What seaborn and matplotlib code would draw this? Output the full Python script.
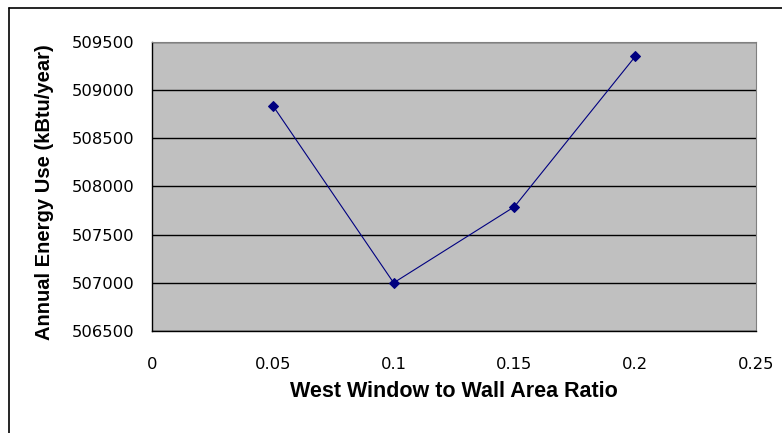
import matplotlib
matplotlib.use("Agg")
import matplotlib.pyplot as plt
import seaborn as sns
import pandas as pd
from matplotlib.lines import Line2D

# Data
window_ratio = [0.05, 0.10, 0.15, 0.20]
energy_use = [508840, 507000, 507790, 509350]

x_ticks = [0, 0.05, 0.1, 0.15, 0.2, 0.25]
x_tick_labels = ["0", "0.05", "0.1", "0.15", "0.2", "0.25"]
y_ticks = [506500, 507000, 507500, 508000, 508500, 509000, 509500]

df = pd.DataFrame({"ratio": window_ratio, "energy": energy_use})

sns.set_style("white")
plt.rcParams["font.family"] = ["Liberation Sans", "DejaVu Sans"]
plt.rcParams["text.color"] = "black"
plt.rcParams["axes.labelcolor"] = "black"
plt.rcParams["xtick.color"] = "black"
plt.rcParams["ytick.color"] = "black"

fig = plt.figure(figsize=(7.82, 4.33), dpi=100)
ax = fig.add_axes([0.1944, 0.2356, 0.7724, 0.6674])
ax.set_facecolor("#C0C0C0")

sns.lineplot(data=df, x="ratio", y="energy", ax=ax, color="#000080",
             linewidth=0.8, marker="D", markersize=5.5,
             markeredgecolor="#000080", zorder=3)

ax.set_xlim(0, 0.25)
ax.set_ylim(506500, 509500)
ax.set_xticks(x_ticks)
ax.set_xticklabels(x_tick_labels, fontfamily="DejaVu Sans", fontsize=11.8)
ax.set_yticks(y_ticks)
ax.set_yticklabels([str(v) for v in y_ticks], fontfamily="DejaVu Sans",
                   fontsize=11.8)

ax.yaxis.grid(True, color="black", linewidth=1.0)
ax.xaxis.grid(False)
ax.set_axisbelow(True)

for side in ["top", "right"]:
    ax.spines[side].set_color("#808080")
    ax.spines[side].set_linewidth(0.8)
for side in ["left", "bottom"]:
    ax.spines[side].set_color("black")
    ax.spines[side].set_linewidth(1.0)

ax.tick_params(axis="both", direction="out", length=4.5, width=1,
               color="black")
ax.tick_params(axis="y", pad=8)
ax.tick_params(axis="x", pad=14)

ax.set_xlabel("West Window to Wall Area Ratio", fontsize=15.5,
              fontweight="bold", labelpad=7)
ax.set_ylabel("Annual Energy Use (kBtu/year)", fontsize=14.5,
              fontweight="bold")
ax.yaxis.set_label_coords(-0.163, 0.48)

# outer chart border (top and left edges visible)
fig.add_artist(Line2D([0.0115, 1.0], [0.9815, 0.9815], color="black",
                      linewidth=1.2, transform=fig.transFigure))
fig.add_artist(Line2D([0.0115, 0.0115], [0.0, 0.9815], color="black",
                      linewidth=1.2, transform=fig.transFigure))

fig.savefig("out.png", dpi=100)
